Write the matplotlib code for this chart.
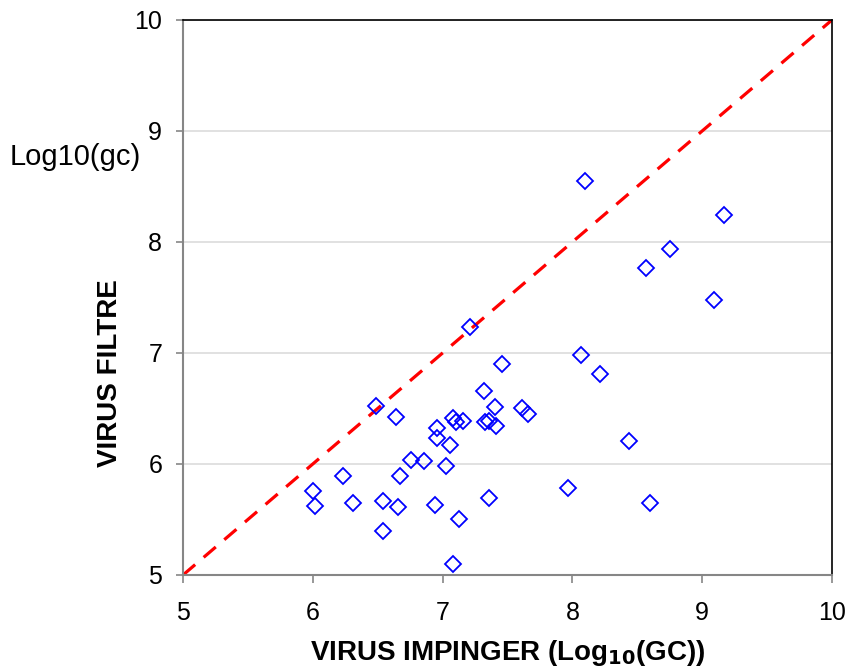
import numpy as np
import matplotlib
matplotlib.use("Agg")
import matplotlib.pyplot as plt

plt.rcParams['font.family'] = ['Liberation Sans', 'DejaVu Sans']

# virus concentrations, log10 gene copies
impinger = [6.00, 6.02, 6.23, 6.31, 6.49, 6.54, 6.54, 6.64, 6.67, 6.66,
            6.76, 6.86, 6.94, 6.96, 6.96, 7.03, 7.06, 7.08, 7.10, 7.08,
            7.13, 7.16, 7.21, 7.32, 7.33, 7.36, 7.36, 7.40, 7.41, 7.46,
            7.61, 7.66, 7.97, 8.07, 8.10, 8.21, 8.44, 8.57, 8.60, 8.75,
            9.09, 9.17]
filtre = [5.76, 5.62, 5.89, 5.65, 6.52, 5.67, 5.40, 6.42, 5.89, 5.61,
          6.04, 6.03, 5.63, 6.32, 6.23, 5.98, 6.17, 6.41, 6.38, 5.10,
          5.50, 6.39, 7.23, 6.66, 6.38, 6.39, 5.69, 6.51, 6.34, 6.90,
          6.50, 6.45, 5.78, 6.98, 8.55, 6.81, 6.21, 7.77, 5.65, 7.94,
          7.48, 8.24]
one_to_one = [5, 10]
ticks = [5, 6, 7, 8, 9, 10]

fig = plt.figure(figsize=(8.52, 6.70), dpi=100)
ax = fig.add_axes([0.2148, 0.1418, 0.7617, 0.8284])

ax.plot(one_to_one, one_to_one, color='#ff0000', linewidth=2.3,
        linestyle=(0, (5, 3.5)), zorder=2)
ax.plot(impinger, filtre, linestyle='none', marker='D', markersize=8,
        markerfacecolor='none', markeredgecolor='#0000ff',
        markeredgewidth=1.3, zorder=3)

ax.set_xlim(5, 10)
ax.set_ylim(5, 10)
ax.set_xticks(ticks)
ax.set_yticks(ticks)
ax.yaxis.grid(True, color='#d9d9d9', linewidth=1.1)
ax.set_axisbelow(True)

for s in ['left', 'bottom']:
    ax.spines[s].set_color('#868686')
    ax.spines[s].set_linewidth(1.5)
for s in ['top', 'right']:
    ax.spines[s].set_color('#000000')
    ax.spines[s].set_linewidth(1.2)

ax.tick_params(axis='x', direction='out', length=6, width=1.2,
               color='#868686', labelsize=18, pad=13)
ax.tick_params(axis='y', direction='out', length=5, width=1.2,
               color='#868686', labelsize=18, pad=10)

ax.set_xlabel('VIRUS IMPINGER (Log$_{\\mathbf{10}}$(GC))', fontsize=20,
              fontweight='bold', labelpad=9)
fig.text(0.129, 0.443, 'VIRUS FILTRE', rotation=90, fontsize=20,
         fontweight='bold', ha='center', va='center')
fig.text(0.011, 0.766, 'Log10(gc)', fontsize=21, ha='left', va='center')

fig.savefig('out.png', dpi=100)
